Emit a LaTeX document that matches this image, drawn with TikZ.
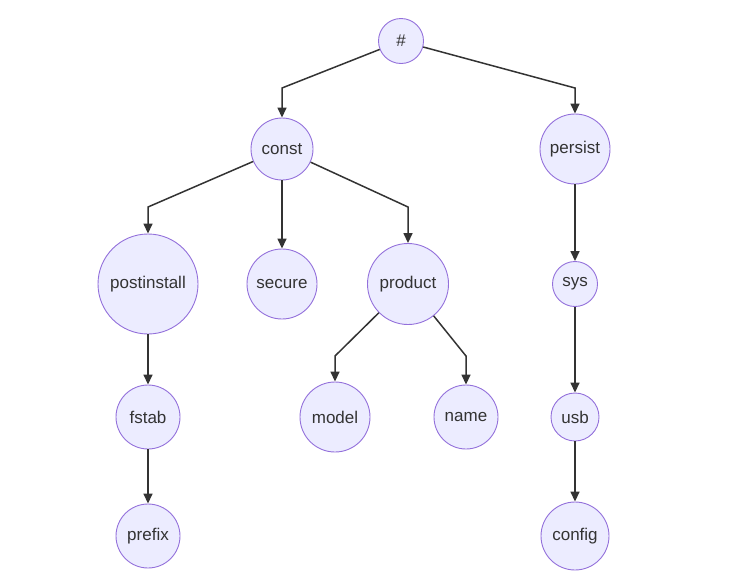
\documentclass[tikz,border=0pt]{standalone}
\usepackage{fontspec}
\setmainfont{Liberation Sans}
\usetikzlibrary{arrows.meta, positioning}
\definecolor{nodefill}{HTML}{ECECFF}
\definecolor{nodeline}{HTML}{9370DB}
\definecolor{edgeline}{HTML}{333333}
\tikzset{
  keynode/.style={circle, draw=nodeline, fill=nodefill, line width=0.9pt, inner sep=0pt,
    text=edgeline, font=\fontsize{17}{20}\selectfont},
  link/.style={->, draw=edgeline, line width=1.5pt}
}

\begin{document}
\begin{tikzpicture}[x=1pt, y=-1pt, >={Triangle[length=10pt,width=9pt]}]
        \useasboundingbox (0,0) rectangle (741,584);
        \node[keynode, minimum size=45pt] (hash) at (401,41) {\#};
        \node[keynode, minimum size=62pt] (const) at (282,149) {const};
        \node[keynode, minimum size=70pt] (persist) at (575,149) {persist};
        \node[keynode, minimum size=100pt] (postinstall) at (148,284) {postinstall};
        \node[keynode, minimum size=70pt] (secure) at (282,284) {secure};
        \node[keynode, minimum size=81pt] (product) at (408,284) {product};
        \node[keynode, minimum size=45pt] (sys) at (575,284) {sys};
        \node[keynode, minimum size=64pt] (fstab) at (148,417) {fstab};
        \node[keynode, minimum size=70pt] (model) at (335,417) {model};
        \node[keynode, minimum size=64pt] (name) at (466,417) {name};
        \node[keynode, minimum size=48pt] (usb) at (575,417) {usb};
        \node[keynode, minimum size=64pt] (prefix) at (148,536) {prefix};
        \node[keynode, minimum size=68pt] (config) at (575,536) {config};
        % bend points
        \coordinate (hashL) at (282,88);
        \coordinate (hashR) at (575,88);
        \coordinate (constL) at (148,207);
        \coordinate (constR) at (408,207);
        \coordinate (prodL) at (335,356);
        \coordinate (prodR) at (466,356);
        \draw[link] (hash) -- (hashL) -- (const);
        \draw[link] (hash) -- (hashR) -- (persist);
        \draw[link] (const) -- (constL) -- (postinstall);
        \draw[link] (const) -- (secure);
        \draw[link] (const) -- (constR) -- (product);
        \draw[link] (product) -- (prodL) -- (model);
        \draw[link] (product) -- (prodR) -- (name);
        \draw[link] (postinstall) -- (fstab);
        \draw[link] (fstab) -- (prefix);
        \draw[link] (persist) -- (sys);
        \draw[link] (sys) -- (usb);
        \draw[link] (usb) -- (config);
    \end{tikzpicture}
\end{document}
